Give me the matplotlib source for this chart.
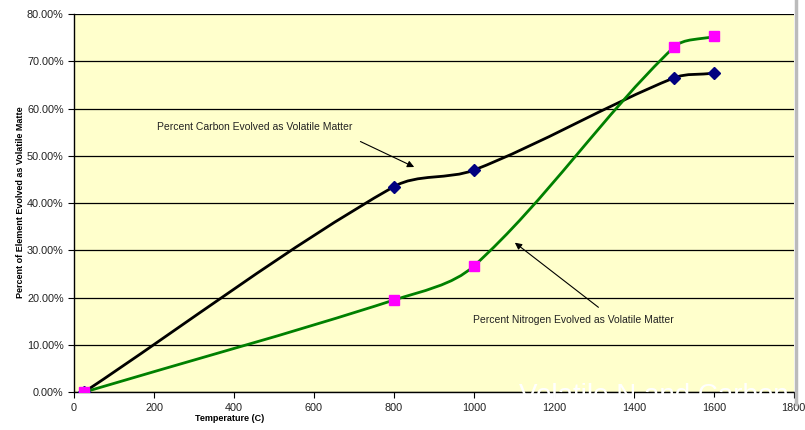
import matplotlib
matplotlib.use("Agg")
import matplotlib.pyplot as plt
from matplotlib.path import Path
from matplotlib.patches import PathPatch
from matplotlib.ticker import FuncFormatter
import numpy as np

plt.rcParams["font.family"] = ["Liberation Sans", "DejaVu Sans"]

# Données
temperature = [25, 800, 1000, 1500, 1600]
carbon = [0.0, 43.5, 47.0, 66.5, 67.5]
nitrogen = [0.0, 19.5, 26.7, 73.0, 75.3]
x_ticks = [0, 200, 400, 600, 800, 1000, 1200, 1400, 1600, 1800]
y_ticks = [0, 10, 20, 30, 40, 50, 60, 70, 80]

fig = plt.figure(figsize=(8.05, 4.30), dpi=100)
ax = fig.add_axes([0.092, 0.088, 0.894, 0.879])
ax.set_facecolor("#FFFFCC")


def smooth_path(xs, ys, sx=0.4, sy=4.725, k=0.33):
    # courbe de Bézier lissée, tangentes calculées en espace écran
    p = np.column_stack([np.array(xs) * sx, np.array(ys) * sy])
    n = len(p)
    tang = []
    for i in range(n):
        d = p[min(i + 1, n - 1)] - p[max(i - 1, 0)]
        tang.append(d / np.linalg.norm(d))
    verts = [tuple(p[0])]
    codes = [Path.MOVETO]
    for i in range(n - 1):
        L = np.linalg.norm(p[i + 1] - p[i])
        c1 = p[i] + tang[i] * L * k
        c2 = p[i + 1] - tang[i + 1] * L * k
        for c in (c1, c2, p[i + 1]):
            verts.append(tuple(c))
            codes.append(Path.CURVE4)
    verts = [(v[0] / sx, v[1] / sy) for v in verts]
    return Path(verts, codes)


ax.add_patch(PathPatch(smooth_path(temperature, carbon), fill=False,
                       edgecolor="black", lw=2, zorder=3))
ax.add_patch(PathPatch(smooth_path(temperature, nitrogen), fill=False,
                       edgecolor="#008000", lw=2, zorder=3))
ax.plot(temperature, carbon, ls="none", marker="D", ms=6,
        color="#000080", zorder=4)
ax.plot(temperature, nitrogen, ls="none", marker="s", ms=7.5,
        color="#FF00FF", zorder=5)

ax.set_xlim(0, 1800)
ax.set_ylim(0, 80)
ax.set_xticks(x_ticks)
ax.set_yticks(y_ticks)
ax.yaxis.set_major_formatter(FuncFormatter(lambda v, p: "%.2f%%" % v))
ax.grid(axis="y", color="black", lw=0.9)
ax.set_axisbelow(True)
ax.tick_params(labelsize=7.8, direction="out", length=4, color="black",
               labelcolor="#222222")
for s in ["top", "right"]:
    ax.spines[s].set_visible(False)
ax.spines["left"].set_linewidth(1)
ax.spines["bottom"].set_linewidth(1)

# Annotations
ax.annotate("", xy=(857, 47.4), xytext=(710, 53.3),
            arrowprops=dict(arrowstyle="-|>", color="black", lw=0.8),
            zorder=6)
ax.text(207, 56.1, "Percent Carbon Evolved as Volatile Matter",
        fontsize=7.5, color="#222222", va="center", zorder=6)
ax.annotate("", xy=(1097, 32), xytext=(1317, 17.6),
            arrowprops=dict(arrowstyle="-|>", color="black", lw=0.8),
            zorder=6)
ax.text(997, 15.2, "Percent Nitrogen Evolved as Volatile Matter",
        fontsize=7.5, color="#222222", va="center", zorder=6)

# Bordure grise à droite
fig.add_artist(plt.Line2D([0.9885, 0.9885], [0.06, 1.0], color="#BBBBBB",
                          lw=2.5))

# Titre blanc tronqué
fig.text(0.645, 0.078, "Volatile N and Carbon", fontsize=20, color="white",
         va="center", ha="left", zorder=10)

fig.text(0.025, 0.53, "Percent of Element Evolved as Volatile Matte",
         rotation=90, fontsize=6.5, fontweight="bold", va="center", ha="center")
fig.text(0.285, 0.027, "Temperature (C)", fontsize=6.5, fontweight="bold",
         ha="center", va="center")

fig.savefig("out.png", dpi=100)
